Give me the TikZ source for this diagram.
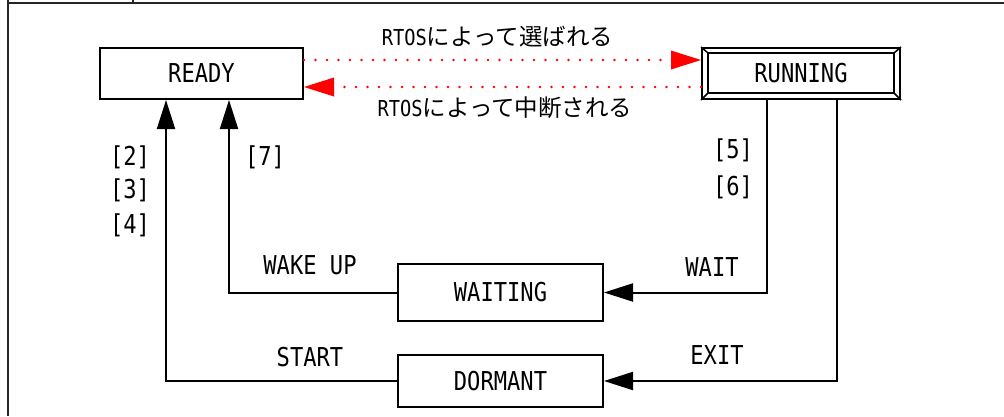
\documentclass[tikz,border=0pt]{standalone}
\usepackage{fontspec}
\usetikzlibrary{arrows.meta,calc}
\newfontfamily\monofnt[FakeStretch=0.85]{DejaVu Sans Mono}
\newfontfamily\jpfnt{Noto Sans CJK JP}
\begin{document}
\begin{tikzpicture}[x=1pt,y=-1pt,
  box/.style={draw,line width=2pt,inner sep=0pt,font=\monofnt\fontsize{26}{26}\selectfont},
  lbl/.style={inner sep=0pt,font=\monofnt\fontsize{26}{26}\selectfont},
  jlbl/.style={inner sep=0pt,font=\fontsize{23.5}{23.5}\selectfont},
  arr/.style={line width=2pt,-{Triangle[length=29pt,width=18pt]}},
  reddot/.style={red,line width=2.8pt,line cap=round,dash pattern=on 0pt off 11.5pt,
    -{Triangle[length=30pt,width=19pt,line width=0pt]}},
  framel/.style={line width=2pt,black!85}]
\useasboundingbox (0,0) rectangle (1004,416);
% frame
\draw[framel] (8,0) -- (8,416);
\draw[framel] (8,3) -- (1004,3);
\draw[framel] (133,0) -- (133,3);
% nodes
\node[box,minimum width=203pt,minimum height=51pt] (ready) at (201.5,73.5) {READY};
\node[box,minimum width=198pt,minimum height=51pt] (running) at (801,73.5) {RUNNING};
\draw[line width=2pt] ($(running.north west)+(7,6)$) rectangle ($(running.south east)+(-7,-7)$);
\draw[line width=1.5pt] (running.north west) -- ++(7,6)
  (running.north east) -- ++(-7,6)
  (running.south west) -- ++(7,-7)
  (running.south east) -- ++(-7,-7);
\node[box,minimum width=205pt,minimum height=57pt] (waiting) at (500.5,292.5) {WAITING};
\node[box,minimum width=205pt,minimum height=52pt] (dormant) at (500.5,381) {DORMANT};
% red dotted arrows
\draw[reddot] ([yshift=-13pt]ready.north east) -- ([yshift=-13pt]running.north west);
\draw[reddot] ([yshift=13pt]running.south west) -- ([yshift=13pt]ready.south east);
\node[jlbl] (sel) at (497.5,37) {{\monofnt\fontsize{22}{22}\selectfont RTOS}{\jpfnt によって選ばれる}};
\node[jlbl] (intr) at (505,108) {{\monofnt\fontsize{22}{22}\selectfont RTOS}{\jpfnt によって中断される}};
% black arrows
\draw[arr] ([xshift=66pt]running.south west) |- (waiting.east);
\draw[arr] ([xshift=136pt]running.south west) |- (dormant.east);
\draw[arr] (waiting.west) -| ([xshift=130pt]ready.south west);
\draw[arr] (dormant.west) -| ([xshift=67pt]ready.south west);
% labels
\node[lbl] (l2) at (130,157) {[2]};
\node[lbl] (l3) at (130,190) {[3]};
\node[lbl] (l4) at (130,225) {[4]};
\node[lbl] (l7) at (265,157) {[7]};
\node[lbl] (l5) at (733,150) {[5]};
\node[lbl] (l6) at (733,187) {[6]};
\node[lbl] (wake) at (310,265) {WAKE UP};
\node[lbl] (start) at (310,357) {START};
\node[lbl] (wait) at (712,267) {WAIT};
\node[lbl] (exit) at (717,355) {EXIT};
\end{tikzpicture}
\end{document}
